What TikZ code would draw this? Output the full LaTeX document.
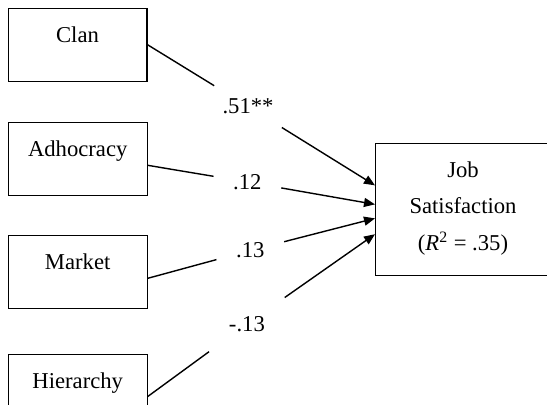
\documentclass[tikz,border=0pt]{standalone}
\usepackage{fontspec}
\setmainfont{Liberation Serif}
\usetikzlibrary{arrows.meta}

\begin{document}
\begin{tikzpicture}[x=0.02cm, y=-0.02cm,
  font=\fontsize{12.9pt}{20.7pt}\selectfont,
  culture/.style={draw, line width=0.6pt, anchor=north west, minimum width=2.78cm,
    inner xsep=0pt, inner ysep=0pt, text height=0.68cm, text depth=0.78cm},
  weight/.style={inner sep=0pt, minimum width=1.34cm, minimum height=1.2cm},
  link/.style={line width=0.8pt},
  effect/.style={link, -{Triangle[length=0.22cm, width=0.18cm]}}]
\newcommand{\jsw}{3.5cm}; % outcome box width
\newcommand{\jstop}{2.14cm}; % last baseline below top
\newcommand{\jsbot}{0.50cm}; % rest of outcome box

\useasboundingbox (0,0) rectangle (547,405);

% culture types
\node[culture] (clan) at (7.5, 7.7)   {Clan};
\node[culture] (adh)  at (7.7, 121.8) {Adhocracy};
\node[culture] (mkt)  at (7.7, 234.8) {Market};
\node[culture] (hier) at (7.7, 353.5) {Hierarchy};
%

% outcome
\node[draw, line width=0.6pt, anchor=north west, align=center, minimum width=\jsw,
  inner ysep=0pt, text height=\jstop, text depth=\jsbot] (js) at (375, 142.7)
  {Job\\Satisfaction\\(\textit{R}\textsuperscript{2} = .35)};

% path coefficients
\node[weight] (w1) at (248, 106.5)   {.51**};
\node[weight] (w2) at (247.4, 182.0) {.12};
\node[weight] (w3) at (250.3, 250.4) {.13};
\node[weight, minimum width=1.5cm] (w4) at (246.9, 324.0) {-.13};

\draw[link] (clan.east) -- (w1);
\draw[link] ([yshift=-0.13cm]adh.east) -- (w2);
\draw[link] ([yshift=-0.13cm]mkt.east) -- (w3);
\draw[link] ([yshift=-0.12cm]hier.east) -- (w4);

\draw[effect] (w1) -- ([yshift=0.477cm]js.west);
\draw[effect] (w2) -- ([yshift=0.097cm]js.west);
\draw[effect] (w3) -- ([yshift=-0.183cm]js.west);
\draw[effect] (w4) -- ([yshift=-0.5cm]js.west);
\end{tikzpicture}
\end{document}
